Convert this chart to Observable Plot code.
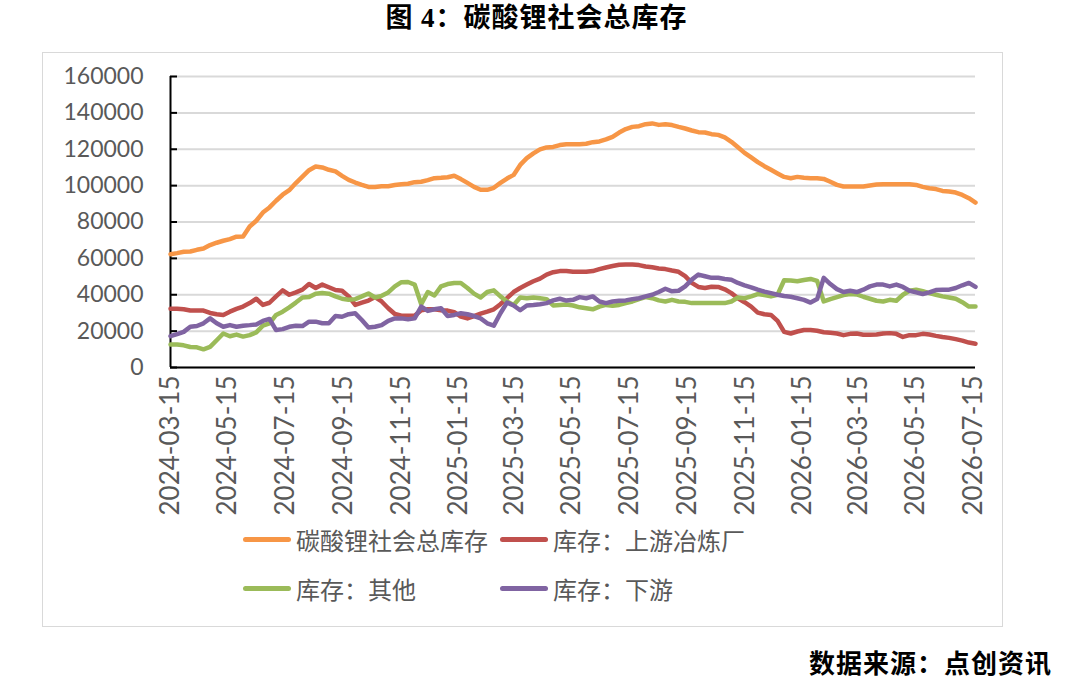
<!DOCTYPE html>
<html>
<head>
<meta charset="utf-8">
<script src="https://cdn.jsdelivr.net/npm/d3@7"></script>
<script src="https://cdn.jsdelivr.net/npm/@observablehq/plot@0.6"></script>
<style>
  body { margin: 0; background: #fff; }
  #wrap { position: relative; width: 1073px; height: 686px; overflow: hidden; background: #fff; }
  #title { position: absolute; left: 0; top: 2px; width: 1073px; text-align: center;
           font-family: "Liberation Serif", "Noto Sans CJK SC", serif; font-weight: bold;
           font-size: 27px; letter-spacing: 1px; line-height: 32px; color: #000; }
  #box { position: absolute; left: 42px; top: 52px; width: 961px; height: 575px;
         border: 1px solid #d9d9d9; box-sizing: border-box; }
  #chart { position: absolute; left: 0; top: 52px; }
  .lg { position: absolute; display: flex; align-items: center; height: 30px;
        font-family: "Noto Sans CJK SC", sans-serif; font-size: 24px; color: #595959; white-space: nowrap; }
  .sw { width: 48px; height: 5px; border-radius: 3px; margin-right: 5px; }
  #source { position: absolute; left: 809px; top: 645px; font-family: "Noto Sans CJK SC", sans-serif;
            font-weight: bold; font-size: 26px; line-height: 34px; color: #000; letter-spacing: 1px; }
</style>
</head>
<body>
<div id="wrap">
  <div id="title">图 4：碳酸锂社会总库存</div>
  <div id="box"></div>
  <div id="chart"></div>
  <div id="legend"></div>
  <div id="source">数据来源：点创资讯</div>
</div>
<script>
// Weekly observations starting from this date
const firstWeek = "2024-03-15";

const seriesNames = ["碳酸锂社会总库存", "库存：上游冶炼厂", "库存：其他", "库存：下游"];
const seriesColors = ["#F79646", "#C0504D", "#9BBB59", "#8064A2"];

const totalStock = [
  62300, 62900, 63600, 63800, 64700, 65400, 67300, 68600, 69700, 70600,
  71900, 72000, 77500, 80700, 85200, 88000, 91700, 95000, 97500, 101400,
  105000, 108500, 110500, 110000, 108700, 107800, 105400, 103200, 101700, 100400,
  99300, 99300, 99700, 99700, 100300, 100800, 101000, 101900, 102100, 103000,
  104100, 104300, 104600, 105400, 103600, 101500, 99300, 97700, 97700, 98800,
  101500, 103900, 105900, 111400, 115100, 117700, 119900, 121000, 121300, 122300,
  122800, 122800, 122800, 123000, 123900, 124300, 125400, 126800, 129200, 131100,
  132300, 132700, 133800, 134200, 133400, 133800, 133300, 132300, 131400, 130300,
  129400, 129200, 128300, 127900, 126500, 124100, 121100, 118000, 115500, 112900,
  110700, 108700, 106700, 104800, 104100, 104800, 104300, 104100, 104100, 103700,
  102100, 100400, 99500, 99500, 99500, 99500, 100100, 100600, 100800, 100800,
  100800, 100800, 100800, 100400, 99300, 98600, 98100, 97100, 96800, 96200,
  94900, 93100, 90700
];

const smelterStock = [
  32300, 32300, 32000, 31300, 31300, 31300, 30000, 29300, 28900, 30700,
  32200, 33500, 35400, 37800, 34400, 35600, 39100, 42400, 40000, 41300,
  42800, 45900, 43700, 45600, 44100, 42600, 42200, 39100, 34400, 35700,
  36800, 38700, 36300, 32600, 29400, 28500, 28500, 28500, 31500, 32000,
  32000, 31500, 31300, 30400, 28000, 27000, 28300, 29600, 30700, 32000,
  34800, 38100, 41500, 43700, 45600, 47400, 48900, 51100, 52400, 53000,
  53000, 52600, 52600, 52600, 53000, 54100, 55000, 55800, 56500, 56600,
  56600, 56300, 55500, 55100, 54400, 54100, 53300, 52600, 50200, 46500,
  44300, 43700, 44400, 44300, 43000, 40900, 38100, 35900, 33500, 30200,
  29300, 28900, 25600, 19600, 18700, 19800, 20600, 20600, 20200, 19400,
  19100, 18700, 17800, 18500, 18700, 18000, 18000, 18100, 18700, 18900,
  18500, 16800, 17800, 17800, 18500, 18100, 17400, 16800, 16300, 15600,
  14800, 13700, 13100
];

const otherStock = [
  12600, 12600, 12200, 11300, 11100, 10000, 11300, 15000, 18700, 17200,
  18100, 17000, 17800, 19300, 23000, 24300, 28900, 30700, 33100, 35700,
  38500, 38700, 40600, 40900, 40600, 39100, 37800, 37200, 37600, 39100,
  40700, 38500, 39400, 41300, 44600, 46900, 47000, 45600, 34800, 41500,
  39600, 44600, 45900, 46500, 46500, 43700, 40600, 38500, 41500, 42400,
  39100, 36300, 34400, 38500, 38100, 38500, 38100, 37600, 34100, 34400,
  34600, 34100, 33100, 32600, 32000, 33500, 34400, 33900, 34400, 35400,
  36300, 37600, 38700, 38100, 36900, 36300, 37200, 36300, 36100, 35400,
  35400, 35400, 35400, 35400, 35400, 36300, 38500, 38100, 39100, 40400,
  39800, 39100, 40000, 48000, 47800, 47400, 48100, 48700, 47600, 36300,
  37600, 38700, 39800, 40400, 40200, 38900, 37800, 36700, 36300, 37200,
  36700, 40000, 42200, 42800, 41900, 40900, 40000, 39100, 38500, 37800,
  35900, 33500, 33500
];

const downstreamStock = [
  17200, 18300, 19600, 22400, 22800, 24300, 27000, 24300, 22400, 23300,
  22400, 23000, 23300, 23700, 25600, 26700, 20600, 21100, 22400, 23000,
  22800, 25200, 25200, 24300, 24300, 28300, 27900, 29300, 29800, 26100,
  22000, 22400, 23300, 25700, 27000, 27000, 26500, 27000, 33500, 31100,
  32000, 32600, 28300, 28900, 29800, 29300, 28300, 27000, 24300, 23000,
  29800, 35700, 34100, 31500, 34100, 34400, 34800, 35400, 36900, 37800,
  36800, 37200, 38700, 38100, 39100, 36300, 35400, 36300, 36700, 36900,
  37600, 38100, 39100, 40000, 41500, 43300, 41900, 42200, 44600, 48300,
  51100, 50200, 49300, 49300, 48700, 48300, 46500, 45200, 44100, 42800,
  41700, 40900, 40000, 39300, 38900, 38100, 37200, 35700, 37600, 49300,
  45900, 43100, 41500, 42200, 41500, 42800, 44600, 45600, 45600, 44600,
  45600, 44300, 42200, 41300, 40400, 41300, 42600, 42800, 42800, 43700,
  45200, 46500, 44300
];

const yTicks = [0, 20000, 40000, 60000, 80000, 100000, 120000, 140000, 160000];
const xTickLabels = [
  "2024-03-15", "2024-05-15", "2024-07-15", "2024-09-15", "2024-11-15",
  "2025-01-15", "2025-03-15", "2025-05-15", "2025-07-15", "2025-09-15",
  "2025-11-15", "2026-01-15", "2026-03-15", "2026-05-15", "2026-07-15"
];

const start = new Date(firstWeek + "T00:00:00Z");
const dates = totalStock.map((_, i) => d3.utcDay.offset(start, 7 * i));
const xTicks = xTickLabels.map(s => new Date(s + "T00:00:00Z"));

const allSeries = [totalStock, smelterStock, otherStock, downstreamStock];
const rows = allSeries.flatMap((vals, k) =>
  vals.map((v, i) => ({ series: seriesNames[k], date: dates[i], value: v })));

const fmtDate = d3.utcFormat("%Y-%m-%d");

const chart = Plot.plot({
  width: 1073,
  height: 480,
  marginLeft: 170,
  marginRight: 98,
  marginTop: 24,
  marginBottom: 165,
  style: { background: "transparent", fontFamily: "Lato, sans-serif" },
  x: { type: "utc", domain: [dates[0], dates[dates.length - 1]] },
  y: { domain: [0, 160000] },
  marks: [
    Plot.gridY(yTicks, { stroke: "#d9d9d9", strokeOpacity: 1, strokeWidth: 2 }),
    Plot.axisY(yTicks, { tickSize: 0, tickPadding: 27, fontSize: 23, fill: "#595959",
                         tickFormat: d => String(d), label: null }),
    // short inward ticks on the value axis
    Plot.axisY(yTicks, { tickSize: 7, insetLeft: 7, fill: "none", stroke: "#000",
                         strokeWidth: 2, label: null }),
    Plot.axisX(xTicks, { tickSize: 0, tickPadding: 8, tickRotate: -90, fontSize: 26,
                         fill: "#595959", tickFormat: fmtDate, label: null }),
    Plot.ruleX([dates[0]], { stroke: "#000", strokeWidth: 2 }),
    Plot.ruleY([0], { stroke: "#000", strokeWidth: 2 }),
    ...seriesNames.map((name, k) =>
      Plot.lineY(rows.filter(r => r.series === name), {
        x: "date", y: "value", stroke: seriesColors[k], strokeWidth: 4.5,
        strokeLinejoin: "round", strokeLinecap: "round"
      }))
  ]
});
document.getElementById("chart").appendChild(chart);

// legend: two rows, two entries each
const legend = document.getElementById("legend");
const spots = [[243, 524], [500, 524], [243, 573], [500, 573]];
seriesNames.forEach((name, k) => {
  const item = document.createElement("div");
  item.className = "lg";
  item.style.left = spots[k][0] + "px";
  item.style.top = spots[k][1] + "px";
  const sw = document.createElement("div");
  sw.className = "sw";
  sw.style.background = seriesColors[k];
  const tx = document.createElement("span");
  tx.textContent = name;
  item.appendChild(sw);
  item.appendChild(tx);
  legend.appendChild(item);
});
</script>
</body>
</html>
